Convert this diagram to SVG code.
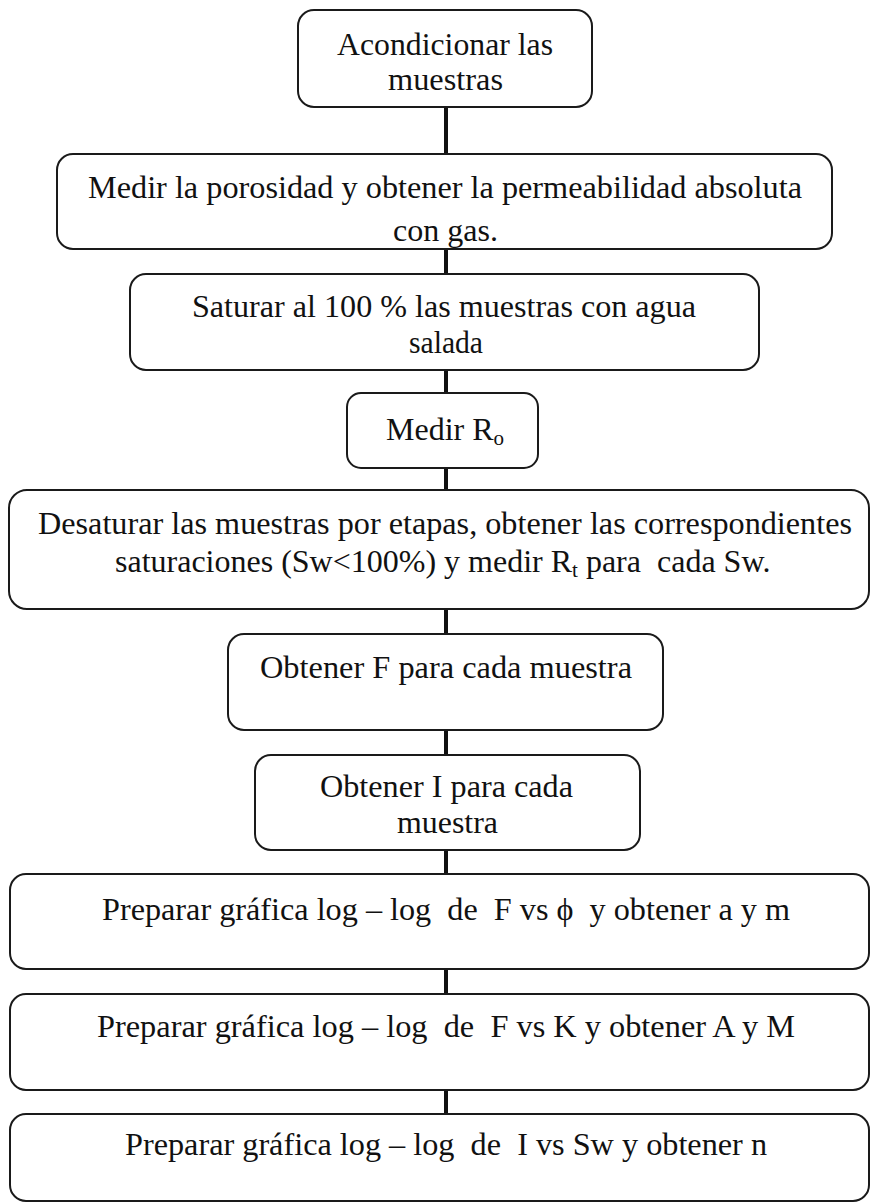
<svg xmlns="http://www.w3.org/2000/svg" width="871" height="1203" viewBox="0 0 871 1203">
  <style>
    .box { fill: #ffffff; stroke: #1a1a1a; stroke-width: 2; }
    .lbl { font-family: "Liberation Serif", "Times New Roman", serif; font-size: 32px; fill: #111111; white-space: pre; }
    .sub { font-size: 21px; }
    .link { stroke: #111111; stroke-width: 4; fill: none; }
  </style>
  <rect width="871" height="1203" fill="#ffffff"/>

  <!-- vertical links between consecutive steps -->
  <g id="connectors">
    <line class="link" x1="446" y1="107" x2="446" y2="154"/>
    <line class="link" x1="446" y1="249" x2="446" y2="274"/>
    <line class="link" x1="446" y1="370" x2="446" y2="393"/>
    <line class="link" x1="446" y1="468" x2="446" y2="490"/>
    <line class="link" x1="446" y1="609" x2="446" y2="634"/>
    <line class="link" x1="446" y1="730" x2="446" y2="755"/>
    <line class="link" x1="446" y1="850" x2="446" y2="874"/>
    <line class="link" x1="446" y1="969" x2="446" y2="994"/>
    <line class="link" x1="446" y1="1090" x2="446" y2="1114"/>
  </g>

  <g id="step1">
    <rect class="box" x="298" y="10" width="294" height="97" rx="16"/>
    <text class="lbl" x="337" y="55" textLength="216" lengthAdjust="spacingAndGlyphs">Acondicionar las</text>
    <text class="lbl" x="388" y="90" textLength="115" lengthAdjust="spacingAndGlyphs">muestras</text>
  </g>

  <g id="step2">
    <rect class="box" x="57" y="154" width="775" height="95" rx="16"/>
    <text class="lbl" x="88" y="198" textLength="714" lengthAdjust="spacingAndGlyphs">Medir la porosidad y obtener la permeabilidad absoluta</text>
    <text class="lbl" x="393" y="241" textLength="105" lengthAdjust="spacingAndGlyphs">con gas.</text>
  </g>

  <g id="step3">
    <rect class="box" x="130" y="274" width="629" height="96" rx="16"/>
    <text class="lbl" x="192" y="317" textLength="504" lengthAdjust="spacingAndGlyphs">Saturar al 100 % las muestras con agua</text>
    <text class="lbl" x="409" y="353" textLength="74" lengthAdjust="spacingAndGlyphs">salada</text>
  </g>

  <g id="step4">
    <rect class="box" x="347" y="393" width="191" height="75" rx="14"/>
    <text class="lbl" x="386" y="440">Medir R<tspan class="sub" dy="5">o</tspan></text>
  </g>

  <g id="step5">
    <rect class="box" x="9" y="490" width="860" height="119" rx="18"/>
    <text class="lbl" x="38" y="534" textLength="814" lengthAdjust="spacingAndGlyphs">Desaturar las muestras por etapas, obtener las correspondientes</text>
    <text class="lbl" x="115" y="572">saturaciones (Sw&lt;100%) y medir R<tspan class="sub" dy="5">t</tspan><tspan dy="-5"> para  cada Sw.</tspan></text>
  </g>

  <g id="step6">
    <rect class="box" x="228" y="634" width="435" height="96" rx="16"/>
    <text class="lbl" x="260" y="678" textLength="372" lengthAdjust="spacingAndGlyphs">Obtener F para cada muestra</text>
  </g>

  <g id="step7">
    <rect class="box" x="255" y="755" width="385" height="95" rx="16"/>
    <text class="lbl" x="320" y="797" textLength="253" lengthAdjust="spacingAndGlyphs">Obtener I para cada</text>
    <text class="lbl" x="397" y="833" textLength="101" lengthAdjust="spacingAndGlyphs">muestra</text>
  </g>

  <g id="step8">
    <rect class="box" x="10" y="874" width="859" height="95" rx="16"/>
    <text class="lbl" x="102" y="920" textLength="688" lengthAdjust="spacingAndGlyphs">Preparar gráfica log – log  de  F vs ϕ  y obtener a y m</text>
  </g>

  <g id="step9">
    <rect class="box" x="10" y="994" width="859" height="96" rx="16"/>
    <text class="lbl" x="97" y="1037" textLength="698" lengthAdjust="spacingAndGlyphs">Preparar gráfica log – log  de  F vs K y obtener A y M</text>
  </g>

  <g id="step10">
    <rect class="box" x="10" y="1114" width="859" height="87" rx="16"/>
    <text class="lbl" x="125" y="1155" textLength="642" lengthAdjust="spacingAndGlyphs">Preparar gráfica log – log  de  I vs Sw y obtener n</text>
  </g>
</svg>
